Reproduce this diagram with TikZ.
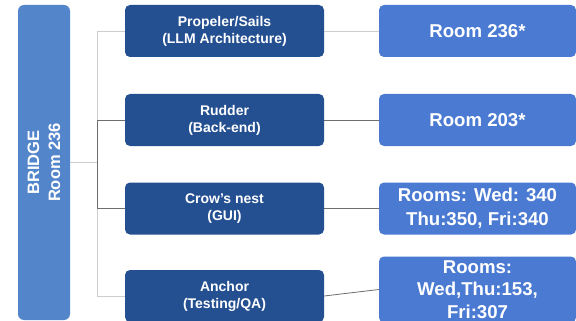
\documentclass[tikz,border=0pt]{standalone}
\usepackage{fontspec}
\setmainfont{Liberation Sans}
\definecolor{bridgeblue}{RGB}{82,133,202}
\definecolor{teamblue}{RGB}{36,80,146}
\definecolor{roomblue}{RGB}{74,122,210}
\definecolor{lightline}{RGB}{205,205,205}
\definecolor{darkline}{RGB}{110,110,110}
\tikzset{
  team/.style={fill=teamblue, rounded corners=5pt, text=white, align=center,
    minimum width=199pt, minimum height=52pt, inner sep=0pt,
    font=\bfseries\fontsize{14}{17}\selectfont},
  room/.style={fill=roomblue, rounded corners=5pt, text=white, align=center,
    minimum width=197pt, minimum height=52pt, inner sep=0pt,
    font=\bfseries\fontsize{18.6}{24}\selectfont},
  thin link/.style={draw=lightline, line width=0.8pt},
  dark link/.style={draw=darkline, line width=0.8pt}
}

\begin{document}
\begin{tikzpicture}[x=1pt,y=-1pt]
  \clip (0,0) rectangle (576,321);
  \fill[white] (0,0) rectangle (576,321);

  % the bridge, standing on its side
  \node (bridge) [fill=bridgeblue, rounded corners=6pt, text=white, rotate=90,
      minimum width=315pt, minimum height=52pt, inner sep=0pt, align=center,
      font=\bfseries\fontsize{16.5}{21}\selectfont] at (44,162.5)
      {BRIDGE\\Room 236};

  \node (sails)  [team] at (224.5,31)  {Propeler/Sails\\(LLM Architecture)};
  \node (rudder) [team] at (224.5,120) {Rudder\\(Back-end)};
  \node (crow)   [team] at (224.5,208.5) {Crow’s nest\\(GUI)};
  \node (anchor) [team] at (224.5,296) {Anchor\\(Testing/QA)};

  \node (room1) [room] at (477.5,31)  {Room 236*};
  \node (room2) [room] at (477.5,120) {Room 203*};
  \node (room3) [room] at (477.5,208.5) {Rooms: Wed: 340\\Thu:350, Fri:340};
  \node (room4) [room, minimum height=66pt,
      font=\bfseries\fontsize{18.6}{22.5}\selectfont] at (477.5,289.5)
      {Rooms:\\Wed,Thu:153,\\Fri:307};

  % tree from the bridge
  \coordinate (trunk) at (97,162.5);
  \draw[thin link] (bridge) -- (trunk);
  \draw[thin link] (sails.west) -| (trunk);
  \draw[thin link] (anchor.west) -| (trunk);
  \draw[dark link] (rudder.west) -| (trunk);
  \draw[dark link] (crow.west) -| (trunk);

  % teams to rooms
  \draw[thin link] (sails) -- (room1);
  \draw[dark link] (rudder) -- (room2);
  \draw[dark link] (crow) -- (room3);
  \draw[dark link] (anchor.east) -- (room4.west);
\end{tikzpicture}
\end{document}
